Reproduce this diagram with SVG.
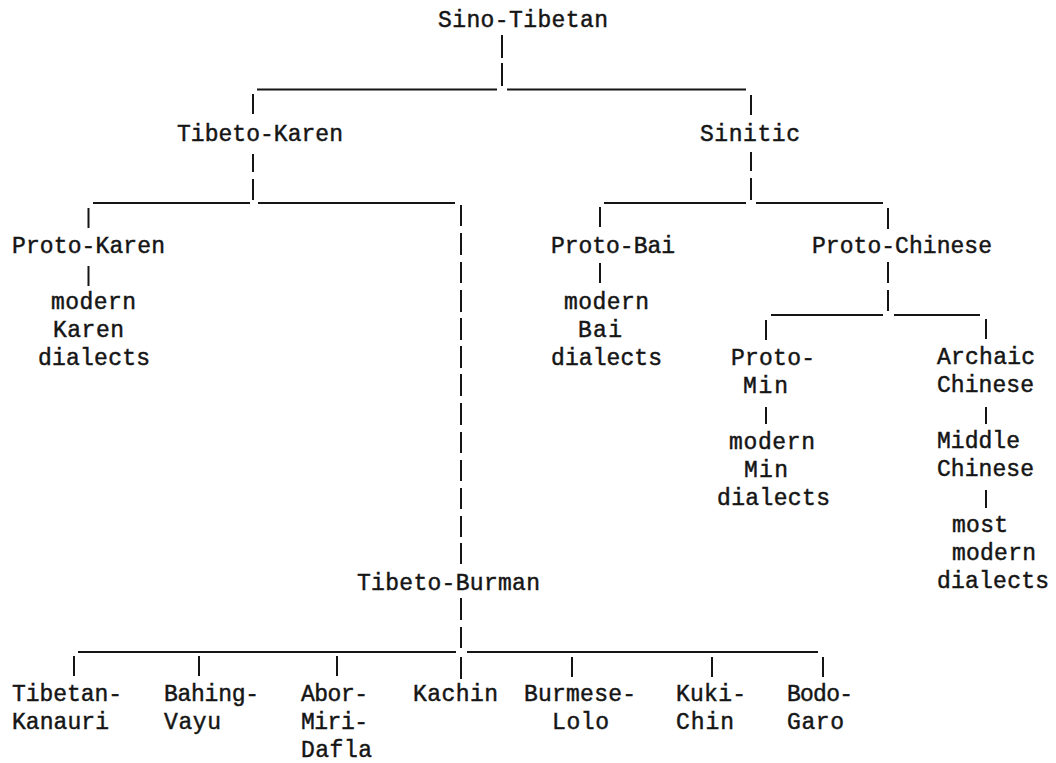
<svg xmlns="http://www.w3.org/2000/svg" width="1056" height="763" viewBox="0 0 1056 763">
<style>
text{font-family:"Liberation Mono","DejaVu Sans Mono",monospace;font-size:23px;fill:#151515;stroke:#151515;stroke-width:0.45}
.c line{stroke:#151515;stroke-width:2;stroke-linecap:butt}
.c line.h{stroke-width:1.8}
</style>
<rect width="1056" height="763" fill="#fff"/>
<g class="c" id="connectors">
<!-- Sino-Tibetan -->
<line x1="502" y1="35" x2="502" y2="58"/><line x1="502" y1="63" x2="502" y2="86"/>
<line class="h" x1="257" y1="89.5" x2="497" y2="89.5"/><line class="h" x1="507" y1="89.5" x2="746" y2="89.5"/>
<line x1="253" y1="94" x2="253" y2="114"/><line x1="751" y1="95" x2="751" y2="115"/>
<!-- Tibeto-Karen -->
<line x1="253" y1="154" x2="253" y2="172"/><line x1="253" y1="179" x2="253" y2="200"/>
<line class="h" x1="93" y1="203" x2="250" y2="203"/><line class="h" x1="258" y1="203" x2="455" y2="203"/>
<line x1="88.5" y1="208" x2="88.5" y2="228"/>
<line x1="88.5" y1="266" x2="88.5" y2="286"/>
<!-- long vertical to Tibeto-Burman -->
<line x1="461" y1="205" x2="461" y2="226"/><line x1="461" y1="233" x2="461" y2="255"/>
<line x1="461" y1="262" x2="461" y2="283"/><line x1="461" y1="290" x2="461" y2="312"/>
<line x1="461" y1="318" x2="461" y2="340"/><line x1="461" y1="346" x2="461" y2="368"/>
<line x1="461" y1="374" x2="461" y2="396"/><line x1="461" y1="403" x2="461" y2="425"/>
<line x1="461" y1="432" x2="461" y2="453"/><line x1="461" y1="460" x2="461" y2="481"/>
<line x1="461" y1="488" x2="461" y2="509"/><line x1="461" y1="516" x2="461" y2="537"/>
<line x1="461" y1="543" x2="461" y2="564"/>
<!-- Sinitic -->
<line x1="751" y1="152" x2="751" y2="171"/><line x1="751" y1="178" x2="751" y2="200"/>
<line class="h" x1="604" y1="203" x2="746" y2="203"/><line class="h" x1="756" y1="203" x2="883" y2="203"/>
<line x1="600" y1="207" x2="600" y2="227"/><line x1="888" y1="208" x2="888" y2="229"/>
<!-- Proto-Bai -->
<line x1="600" y1="263" x2="600" y2="283"/>
<!-- Proto-Chinese -->
<line x1="888" y1="262" x2="888" y2="283"/><line x1="888" y1="290" x2="888" y2="311"/>
<line class="h" x1="771" y1="315" x2="883" y2="315"/><line class="h" x1="894" y1="315" x2="980" y2="315"/>
<line x1="766" y1="320" x2="766" y2="340"/><line x1="986" y1="319" x2="986" y2="339"/>
<!-- Proto-Min -->
<line x1="766" y1="407" x2="766" y2="424"/>
<!-- Archaic / Middle Chinese -->
<line x1="986" y1="407" x2="986" y2="424"/>
<line x1="986" y1="490" x2="986" y2="508"/>
<!-- Tibeto-Burman -->
<line x1="461" y1="598" x2="461" y2="620"/><line x1="461" y1="627" x2="461" y2="648"/>
<line class="h" x1="78" y1="652" x2="456" y2="652"/><line class="h" x1="467" y1="652" x2="818" y2="652"/>
<line x1="74" y1="656" x2="74" y2="676"/><line x1="199" y1="656" x2="199" y2="676"/>
<line x1="337" y1="656" x2="337" y2="676"/><line x1="461" y1="657" x2="461" y2="679"/>
<line x1="572" y1="657" x2="572" y2="677"/><line x1="712" y1="657" x2="712" y2="677"/>
<line x1="823" y1="657" x2="823" y2="677"/>
</g>
<g id="sino-tibetan"><text x="438" y="27" textLength="170" lengthAdjust="spacing">Sino-Tibetan</text></g>
<g id="tibeto-karen"><text x="177" y="141" textLength="166" lengthAdjust="spacing">Tibeto-Karen</text></g>
<g id="sinitic"><text x="700" y="141" textLength="100" lengthAdjust="spacing">Sinitic</text></g>
<g id="proto-karen"><text x="12" y="253" textLength="153" lengthAdjust="spacing">Proto-Karen</text></g>
<g id="modern-karen">
<text x="51" y="309" textLength="85" lengthAdjust="spacing">modern</text>
<text x="53" y="337" textLength="71" lengthAdjust="spacing">Karen</text>
<text x="38" y="365" textLength="112" lengthAdjust="spacing">dialects</text>
</g>
<g id="proto-bai"><text x="551" y="253" textLength="124" lengthAdjust="spacing">Proto-Bai</text></g>
<g id="modern-bai">
<text x="564" y="309" textLength="85" lengthAdjust="spacing">modern</text>
<text x="578" y="337" textLength="44" lengthAdjust="spacing">Bai</text>
<text x="551" y="365" textLength="111" lengthAdjust="spacing">dialects</text>
</g>
<g id="proto-chinese"><text x="812" y="253" textLength="180" lengthAdjust="spacing">Proto-Chinese</text></g>
<g id="proto-min">
<text x="731" y="365" textLength="84" lengthAdjust="spacing">Proto-</text>
<text x="743" y="393" textLength="45" lengthAdjust="spacing">Min</text>
</g>
<g id="modern-min">
<text x="729" y="449" textLength="86" lengthAdjust="spacing">modern</text>
<text x="744" y="477" textLength="44" lengthAdjust="spacing">Min</text>
<text x="717" y="505" textLength="113" lengthAdjust="spacing">dialects</text>
</g>
<g id="archaic-chinese">
<text x="937" y="364" textLength="98" lengthAdjust="spacing">Archaic</text>
<text x="937" y="392" textLength="97" lengthAdjust="spacing">Chinese</text>
</g>
<g id="middle-chinese">
<text x="937" y="448" textLength="83" lengthAdjust="spacing">Middle</text>
<text x="937" y="476" textLength="97" lengthAdjust="spacing">Chinese</text>
</g>
<g id="most-modern-dialects">
<text x="952" y="532" textLength="56" lengthAdjust="spacing">most</text>
<text x="952" y="560" textLength="84" lengthAdjust="spacing">modern</text>
<text x="937" y="588" textLength="112" lengthAdjust="spacing">dialects</text>
</g>
<g id="tibeto-burman"><text x="357" y="590" textLength="183" lengthAdjust="spacing">Tibeto-Burman</text></g>
<g id="tibetan-kanauri">
<text x="12" y="701" textLength="110" lengthAdjust="spacing">Tibetan-</text>
<text x="12" y="729" textLength="97" lengthAdjust="spacing">Kanauri</text>
</g>
<g id="bahing-vayu">
<text x="164" y="701" textLength="95" lengthAdjust="spacing">Bahing-</text>
<text x="164" y="729" textLength="57" lengthAdjust="spacing">Vayu</text>
</g>
<g id="abor-miri-dafla">
<text x="301" y="701" textLength="67" lengthAdjust="spacing">Abor-</text>
<text x="301" y="729" textLength="67" lengthAdjust="spacing">Miri-</text>
<text x="301" y="757" textLength="71" lengthAdjust="spacing">Dafla</text>
</g>
<g id="kachin"><text x="413" y="701" textLength="85" lengthAdjust="spacing">Kachin</text></g>
<g id="burmese-lolo">
<text x="524" y="701" textLength="112" lengthAdjust="spacing">Burmese-</text>
<text x="552" y="729" textLength="57" lengthAdjust="spacing">Lolo</text>
</g>
<g id="kuki-chin">
<text x="676" y="701" textLength="70" lengthAdjust="spacing">Kuki-</text>
<text x="676" y="729" textLength="58" lengthAdjust="spacing">Chin</text>
</g>
<g id="bodo-garo">
<text x="787" y="701" textLength="66" lengthAdjust="spacing">Bodo-</text>
<text x="787" y="729" textLength="57" lengthAdjust="spacing">Garo</text>
</g>
</svg>
